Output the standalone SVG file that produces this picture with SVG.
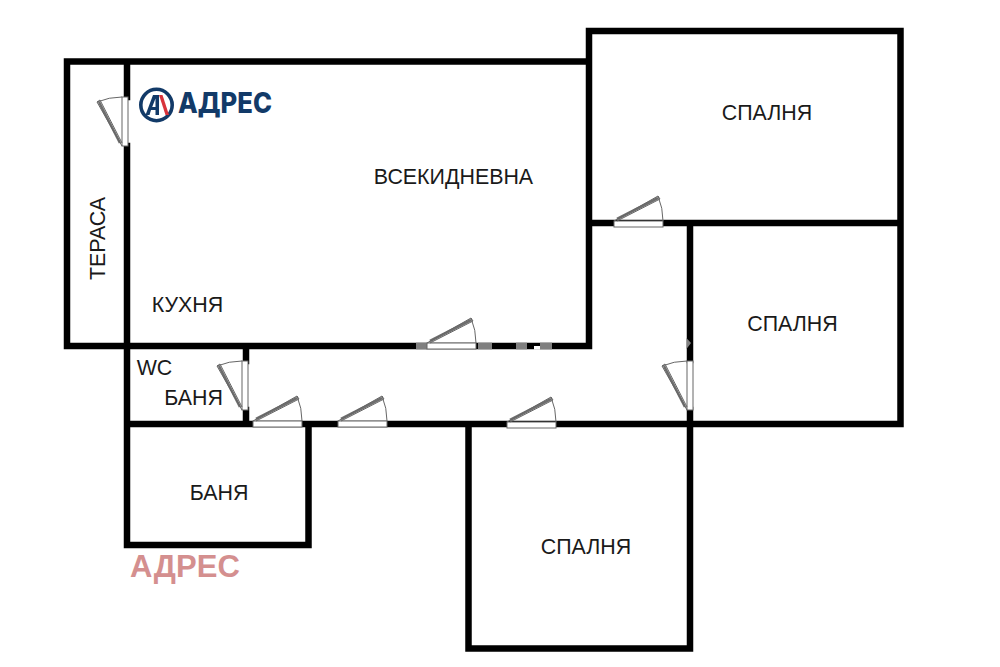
<svg xmlns="http://www.w3.org/2000/svg" width="1000" height="667" viewBox="0 0 1000 667">
<style>
.wall{stroke:#000;stroke-width:6.5;fill:none;stroke-linecap:square}
.lbl{font-family:"Liberation Sans",Arial,sans-serif;font-size:21.4px;fill:#1a1a1a}
.wm{fill:#808080}
.frame{fill:#fff;stroke:#666;stroke-width:1}
.leaf{stroke:#6e6e6e;stroke-width:2.6;fill:none}
.arc{stroke:#666;stroke-width:1;fill:none}
</style>
<defs>
<g id="door">
<rect class="frame" x="0" y="0" width="49" height="6"/>
<path class="leaf" d="M3,-2 L44,-23"/>
<path class="arc" d="M0,0 L44,-25 L46,-22 L3,0 M44,-25 Q49,-13 49,0"/>
</g>
</defs>
<rect width="1000" height="667" fill="#fff"/>
<g id="walls">
<path class="wall" d="M67,61.5H589M67,61.5V346H589M589,31V346M589,31H900.5V424M589,223H900.5M127,61.5V97M127,146V545H308.5V424M127,424H900.5M246,349V361M246,410V424M690,223V360M690,410V648.5H468.5V424"/>
</g>
<g id="watermark">
<rect class="wm" x="416" y="342.75" width="11" height="6.5"/>
<rect class="wm" x="478" y="342.75" width="14" height="6.5"/>
<rect class="wm" x="516" y="342.75" width="11" height="6.5"/>
<rect x="534" y="346" width="6" height="3.5" fill="#fff"/>
<rect class="wm" x="540" y="342.75" width="12" height="6.5"/>
<path class="wm" d="M686.5,338L691,343L686.5,349Z"/>
</g>
<g id="doors">
<use id="door-terrace" href="#door" transform="translate(122,146) rotate(-90)"/>
<use id="door-wc" href="#door" transform="translate(242,410) rotate(-90)"/>
<use id="door-bedroom-east" href="#door" transform="translate(687,410) rotate(-90)"/>
<use id="door-bedroom-north" href="#door" transform="translate(614,221)"/>
<use id="door-living" href="#door" transform="translate(427,343)"/>
<use id="door-bath" href="#door" transform="translate(253,421)"/>
<use id="door-bath2" href="#door" transform="translate(338,421)"/>
<use id="door-bedroom-south" href="#door" transform="translate(507,422)"/>
</g>
<g id="logo">
<circle cx="156.5" cy="105" r="15.7" fill="#fff" stroke="#123a68" stroke-width="3.6"/>
<path d="M145.5,115L153,95H159V115H155.5V110H151L149.5,115ZM152.2,107H155.5V98.5Z" fill="#123a68" fill-rule="evenodd"/>
<path d="M159,95H162.5L169,115H165.5Z" fill="#d8333b"/>
<text x="178" y="113" font-family="Inter,'Open Sans','Liberation Sans',sans-serif" font-weight="800" font-size="28" fill="#123a68" textLength="94" lengthAdjust="spacingAndGlyphs">АДРЕС</text>
</g>
<g id="room-living"><text class="lbl" x="453.5" y="184" text-anchor="middle">ВСЕКИДНЕВНА</text></g>
<g id="room-bedroom-north"><text class="lbl" x="767" y="120" text-anchor="middle">СПАЛНЯ</text></g>
<g id="room-bedroom-east"><text class="lbl" x="792.5" y="331" text-anchor="middle">СПАЛНЯ</text></g>
<g id="room-bedroom-south"><text class="lbl" x="586" y="554" text-anchor="middle">СПАЛНЯ</text></g>
<g id="room-kitchen"><text class="lbl" x="187.5" y="312" text-anchor="middle">КУХНЯ</text></g>
<g id="room-terrace"><text class="lbl" transform="translate(105,238.5) rotate(-90)" text-anchor="middle">ТЕРАСА</text></g>
<g id="room-wc"><text class="lbl" x="154.5" y="375" text-anchor="middle">WC</text></g>
<g id="room-wc-bath"><text class="lbl" x="193.5" y="405" text-anchor="middle">БАНЯ</text></g>
<g id="room-bath"><text class="lbl" x="219" y="500" text-anchor="middle">БАНЯ</text></g>
<g id="watermark-text"><text x="130" y="577" font-family="'Liberation Sans',sans-serif" font-weight="700" font-size="31" fill="#d48f8f" textLength="110">АДРЕС</text></g>
</svg>
